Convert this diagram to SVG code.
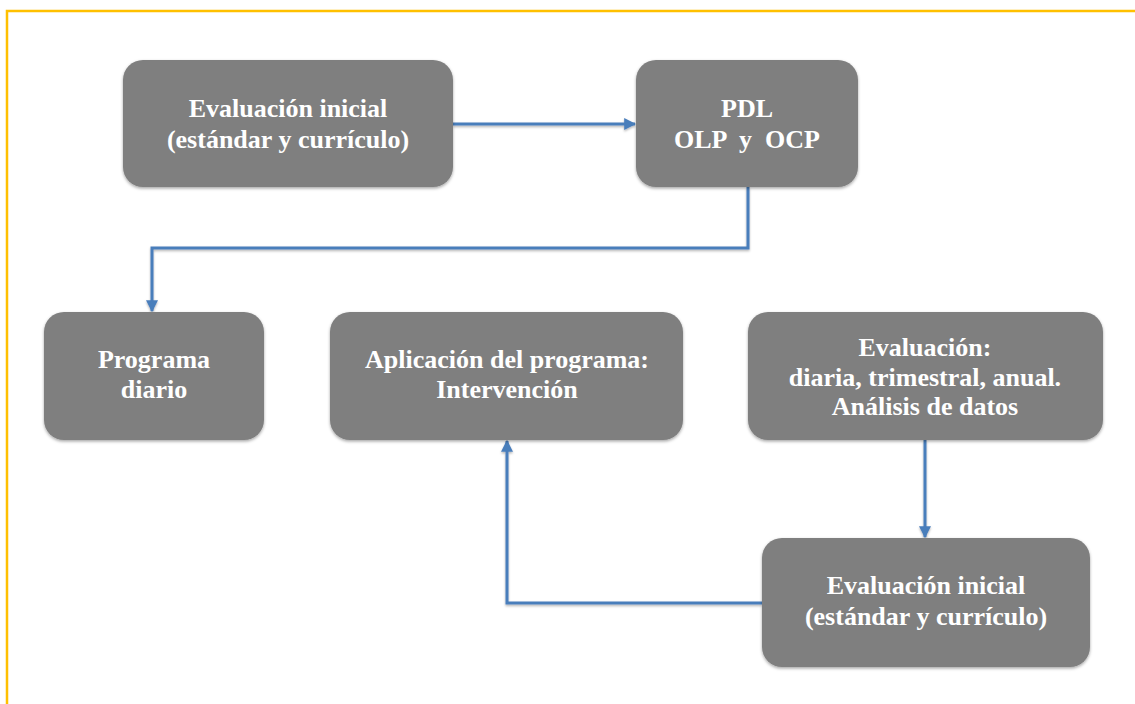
<svg xmlns="http://www.w3.org/2000/svg" width="1135" height="704" viewBox="0 0 1135 704">
<defs>
<style>
.box{fill:#7f7f7f;filter:url(#sh)}
.t{font-family:"Liberation Serif","DejaVu Serif",serif;font-weight:bold;font-size:26px;fill:#ffffff;text-anchor:middle;white-space:pre}
.c{fill:none;stroke:#4a7ebb;stroke-width:3;filter:url(#sh2)}
</style>
<filter id="sh" x="-10%" y="-10%" width="120%" height="130%">
<feDropShadow dx="0" dy="1.5" stdDeviation="1.5" flood-color="#000" flood-opacity="0.35"/>
</filter>
<filter id="sh2" filterUnits="userSpaceOnUse" x="0" y="0" width="1135" height="704">
<feDropShadow dx="0" dy="1.5" stdDeviation="1" flood-color="#000" flood-opacity="0.3"/>
</filter>
<marker id="ah" viewBox="0 0 10 10" refX="9" refY="5" markerWidth="4" markerHeight="4" orient="auto" markerUnits="strokeWidth">
<path d="M0,0 L10,5 L0,10 Z" fill="#4a7ebb"/>
</marker>
</defs>
<rect width="1135" height="704" fill="#ffffff"/>
<path d="M7,704 V11 H1135" fill="none" stroke="#ffc000" stroke-width="2.5"/>
<g id="connectors">
<path class="c" d="M453,124 H635" marker-end="url(#ah)"/>
<path class="c" d="M748,187 V248 H152 V311" marker-end="url(#ah)"/>
<path class="c" d="M925,440 V537" marker-end="url(#ah)"/>
<path class="c" d="M762,603 H507 V441" marker-end="url(#ah)"/>
</g>
<g id="n1">
<rect class="box" x="123" y="60" width="330" height="127" rx="20"/>
<text class="t" x="288" y="117">Evaluación inicial</text>
<text class="t" x="288" y="148">(estándar y currículo)</text>
</g>
<g id="n2">
<rect class="box" x="636" y="60" width="222" height="127" rx="20"/>
<text class="t" x="747" y="117">PDL</text>
<text class="t" x="747" y="148">OLP  y  OCP</text>
</g>
<g id="n3">
<rect class="box" x="44" y="312" width="220" height="128" rx="20"/>
<text class="t" x="154" y="368">Programa</text>
<text class="t" x="154" y="398">diario</text>
</g>
<g id="n4">
<rect class="box" x="330" y="312" width="353" height="128" rx="20"/>
<text class="t" x="507" y="368">Aplicación del programa:</text>
<text class="t" x="507" y="398">Intervención</text>
</g>
<g id="n5">
<rect class="box" x="748" y="312" width="355" height="128" rx="20"/>
<text class="t" x="925" y="356">Evaluación:</text>
<text class="t" x="925" y="386">diaria, trimestral, anual.</text>
<text class="t" x="925" y="415">Análisis de datos</text>
</g>
<g id="n6">
<rect class="box" x="762" y="538" width="328" height="129" rx="20"/>
<text class="t" x="926" y="594">Evaluación inicial</text>
<text class="t" x="926" y="625">(estándar y currículo)</text>
</g>
</svg>
